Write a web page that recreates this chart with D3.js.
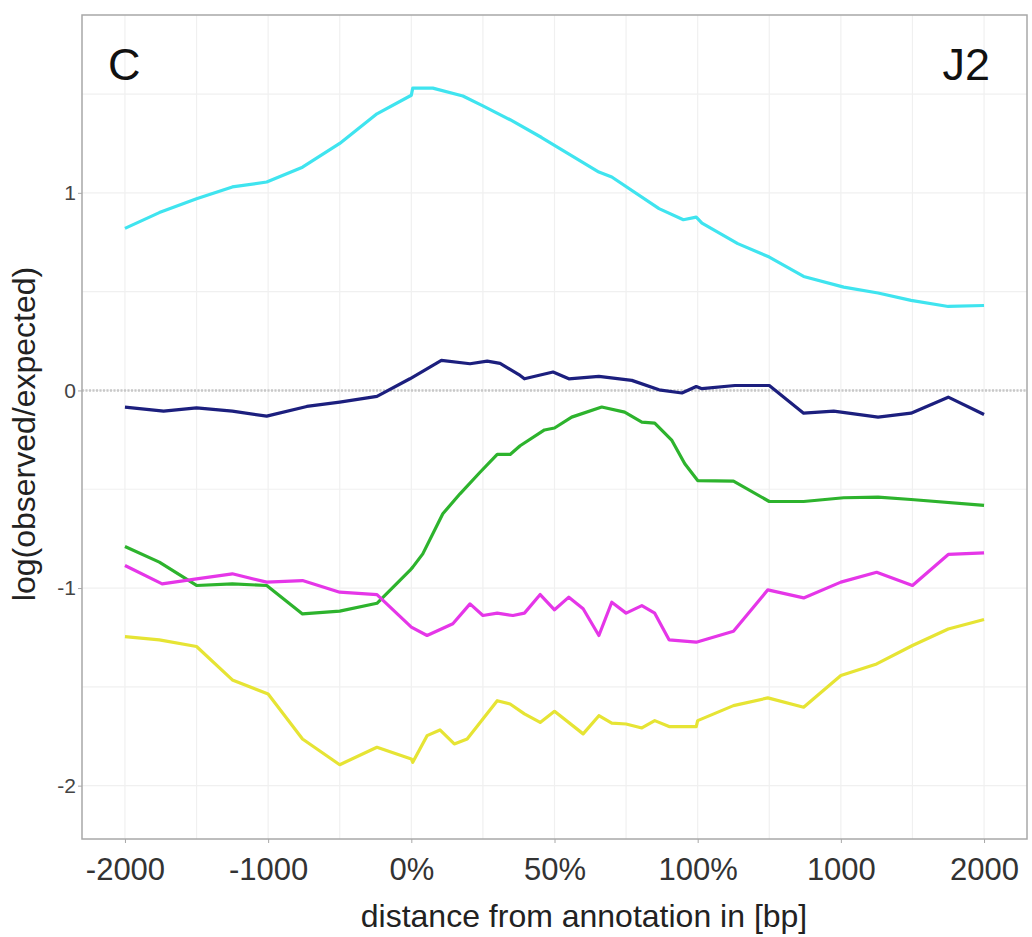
<!DOCTYPE html>
<html>
<head>
<meta charset="utf-8">
<script src="https://cdn.jsdelivr.net/npm/d3@7"></script>
<style>
  body { margin: 0; background: #fff; }
  svg text { font-family: 'Liberation Sans', Arial, sans-serif; }
</style>
</head>
<body>
<div id="chart"></div>
<script>
// x positions: 0 = -2000bp, 2 = 0%, 4 = 100%, 6 = 2000bp
const tickPos = [0, 1, 2, 3, 4, 5, 6]
const tickLabels = ['-2000', '-1000', '0%', '50%', '100%', '1000', '2000']
const yTicks = [-2, -1, 0, 1]

const cyan = [[0, 0.82], [0.24, 0.9], [0.5, 0.97], [0.75, 1.03], [0.99, 1.055], [1.24, 1.13], [1.5, 1.25],
  [1.76, 1.4], [2.0, 1.494], [2.01, 1.53], [2.15, 1.53], [2.36, 1.49], [2.5, 1.44], [2.69, 1.37],
  [2.91, 1.28], [3.31, 1.105], [3.4, 1.08], [3.73, 0.92], [3.9, 0.864], [3.99, 0.877],
  [4.03, 0.847], [4.28, 0.743], [4.5, 0.675], [4.74, 0.577], [5.02, 0.523], [5.26, 0.493],
  [5.49, 0.456], [5.75, 0.425], [6, 0.43]]

const navy = [[0, -0.084], [0.27, -0.105], [0.5, -0.088], [0.75, -0.105], [0.99, -0.13], [1.27, -0.081],
  [1.5, -0.059], [1.76, -0.03], [1.99, 0.059], [2.21, 0.152], [2.41, 0.135], [2.53, 0.148],
  [2.62, 0.137], [2.76, 0.076], [2.79, 0.059], [2.99, 0.093], [3.1, 0.059], [3.31, 0.071],
  [3.54, 0.051], [3.73, 0.003], [3.89, -0.013], [3.99, 0.02], [4.03, 0.009], [4.26, 0.025],
  [4.5, 0.025], [4.74, -0.115], [4.95, -0.105], [5.26, -0.135], [5.49, -0.115], [5.75, -0.034],
  [6, -0.122]]

const green = [[0, -0.79], [0.24, -0.869], [0.5, -0.987], [0.75, -0.979], [0.99, -0.987], [1.24, -1.131],
  [1.5, -1.117], [1.76, -1.077], [1.99, -0.911], [2.01, -0.894], [2.08, -0.827], [2.22, -0.624],
  [2.34, -0.523], [2.48, -0.414], [2.6, -0.324], [2.69, -0.324], [2.76, -0.28], [2.93, -0.2],
  [3.0, -0.19], [3.12, -0.135], [3.33, -0.084], [3.49, -0.11], [3.61, -0.16], [3.7, -0.165],
  [3.82, -0.253], [3.91, -0.371], [4.0, -0.456], [4.25, -0.459], [4.5, -0.562], [4.74, -0.562],
  [5.02, -0.543], [5.26, -0.54], [5.49, -0.552], [6, -0.582]]

const magenta = [[0, -0.886], [0.26, -0.979], [0.5, -0.954], [0.75, -0.928], [0.99, -0.97], [1.24, -0.962],
  [1.5, -1.021], [1.76, -1.033], [2.0, -1.198], [2.11, -1.24], [2.29, -1.181], [2.41, -1.08],
  [2.5, -1.139], [2.6, -1.127], [2.71, -1.139], [2.79, -1.127], [2.9, -1.033], [3.0, -1.11],
  [3.1, -1.046], [3.2, -1.105], [3.31, -1.24], [3.4, -1.072], [3.5, -1.127], [3.61, -1.089],
  [3.7, -1.127], [3.8, -1.262], [3.99, -1.274], [4.25, -1.219], [4.49, -1.009], [4.74, -1.05],
  [5.0, -0.97], [5.25, -0.92], [5.5, -0.987], [5.75, -0.83], [6, -0.822]]

const yellow = [[0, -1.246], [0.24, -1.262], [0.5, -1.296], [0.75, -1.465], [1.0, -1.536], [1.24, -1.764],
  [1.5, -1.894], [1.76, -1.806], [2.0, -1.865], [2.01, -1.882], [2.11, -1.747], [2.2, -1.718],
  [2.3, -1.789], [2.39, -1.764], [2.6, -1.57], [2.69, -1.587], [2.79, -1.637], [2.9, -1.68],
  [3.0, -1.624], [3.2, -1.738], [3.31, -1.646], [3.4, -1.684], [3.5, -1.688], [3.61, -1.708],
  [3.7, -1.671], [3.8, -1.701], [3.99, -1.701], [4.0, -1.671], [4.25, -1.595], [4.49, -1.556],
  [4.74, -1.603], [5.0, -1.443], [5.25, -1.384], [5.5, -1.291], [5.75, -1.207], [6, -1.159]]

const series = [
  { name: 'cyan', values: cyan, color: '#3fe4ef' },
  { name: 'navy', values: navy, color: '#1c1f7e' },
  { name: 'green', values: green, color: '#2db32d' },
  { name: 'magenta', values: magenta, color: '#e536e8' },
  { name: 'yellow', values: yellow, color: '#e6e434' }
]

let _width = 1032
let _height = 937
let _left = 82, _right = 1027, _top = 15, _bottom = 839

let svg = d3.select('#chart').append('svg')
  .attr('width', _width)
  .attr('height', _height)

let x = d3.scaleLinear().domain([-0.3, 6.3]).range([_left, _right])
let y = d3.scaleLinear().domain([-2.27, 1.9]).range([_bottom, _top])

/* grid */
let grid = svg.append('g')
grid.selectAll('.vg')
  .data(d3.range(0, 6.01, 0.5))
  .enter()
  .append('line')
  .attr('x1', d => x(d)).attr('x2', d => x(d))
  .attr('y1', _top).attr('y2', _bottom)
  .attr('stroke', '#f0f0f0')
  .attr('stroke-width', 1.2)
grid.selectAll('.hg')
  .data(d3.range(-2, 1.51, 0.5))
  .enter()
  .append('line')
  .attr('x1', _left).attr('x2', _right)
  .attr('y1', d => y(d)).attr('y2', d => y(d))
  .attr('stroke', '#f0f0f0')
  .attr('stroke-width', 1.2)

/* zero line */
svg.append('line')
  .attr('x1', _left).attr('x2', _right)
  .attr('y1', y(0)).attr('y2', y(0))
  .attr('stroke', '#c8c8c8')
  .attr('stroke-width', 2.5)
  .attr('stroke-dasharray', '2,1.5')

/* lines */
let line = d3.line().x(d => x(d[0])).y(d => y(d[1]))
svg.selectAll('.series')
  .data(series)
  .enter()
  .append('path')
  .attr('class', 'series')
  .attr('d', d => line(d.values))
  .attr('fill', 'none')
  .attr('stroke', d => d.color)
  .attr('stroke-width', 3.2)
  .attr('stroke-linejoin', 'round')

/* panel border */
svg.append('rect')
  .attr('x', _left).attr('y', _top)
  .attr('width', _right - _left).attr('height', _bottom - _top)
  .attr('fill', 'none')
  .attr('stroke', '#a8a8a8')
  .attr('stroke-width', 1.5)

/* axes */
let xAxis = svg.append('g')
  .attr('transform', 'translate(0,' + _bottom + ')')
  .call(d3.axisBottom(x).tickValues(tickPos).tickFormat((d, i) => tickLabels[i]).tickSize(4).tickPadding(15))
xAxis.select('.domain').remove()
xAxis.selectAll('line').attr('stroke', '#a8a8a8')
xAxis.selectAll('text').attr('fill', '#333').style('font-size', '31px')

let yAxis = svg.append('g')
  .attr('transform', 'translate(' + _left + ',0)')
  .call(d3.axisLeft(y).tickValues(yTicks).tickFormat(d => String(d)).tickSize(4).tickPadding(2))
yAxis.select('.domain').remove()
yAxis.selectAll('line').attr('stroke', '#a8a8a8')
yAxis.selectAll('text').attr('fill', '#444').style('font-size', '21px')

/* titles */
svg.append('text')
  .attr('x', 584).attr('y', 927)
  .attr('text-anchor', 'middle')
  .attr('fill', '#222')
  .style('font-size', '32px')
  .text('distance from annotation in [bp]')

svg.append('text')
  .attr('transform', 'translate(35,434) rotate(-90)')
  .attr('text-anchor', 'middle')
  .attr('fill', '#222')
  .style('font-size', '32px')
  .text('log(observed/expected)')

svg.append('text')
  .attr('x', 108).attr('y', 80)
  .attr('fill', '#111')
  .style('font-size', '45px')
  .text('C')

svg.append('text')
  .attr('x', 990).attr('y', 80)
  .attr('text-anchor', 'end')
  .attr('fill', '#111')
  .style('font-size', '45px')
  .text('J2')
</script>
</body>
</html>
